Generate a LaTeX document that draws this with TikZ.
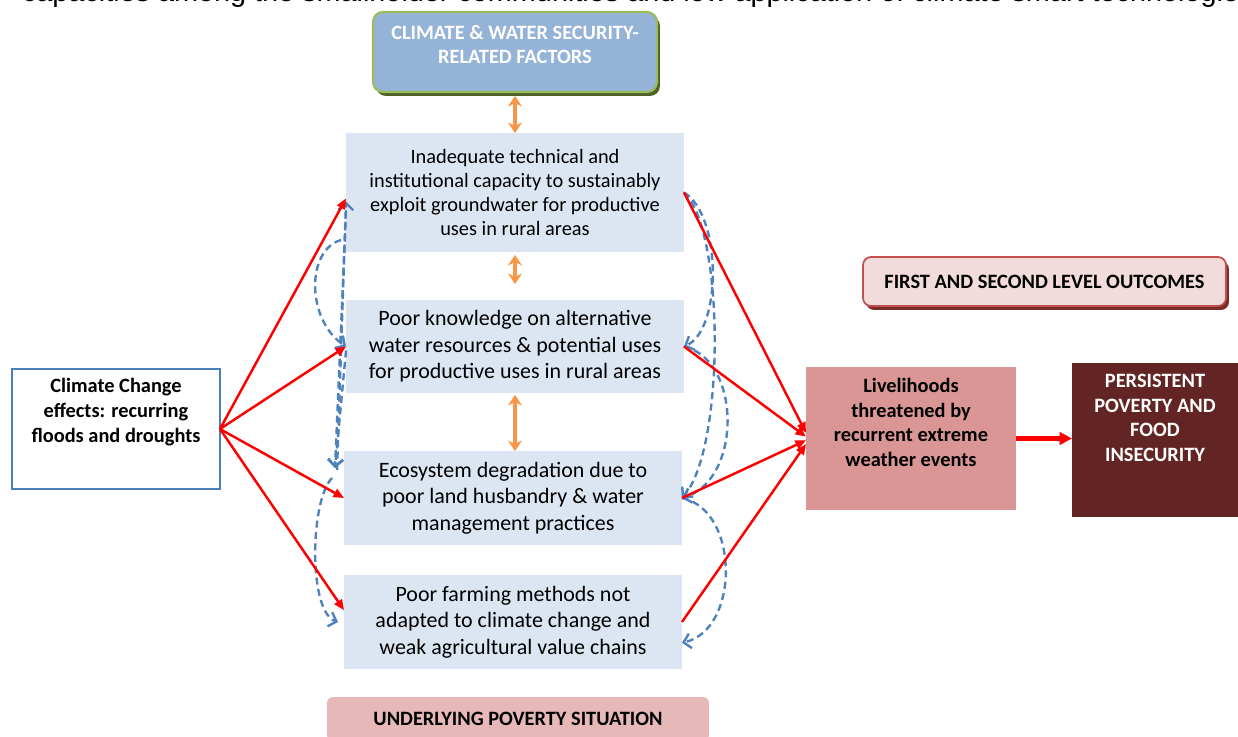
\documentclass[tikz,border=0pt]{standalone}
\usepackage{fontspec}
\setmainfont{Carlito}
\newfontfamily\arialfont{Liberation Sans}
\usetikzlibrary{arrows.meta,shadows}

\definecolor{boxblue}{HTML}{DCE6F2}
\definecolor{headblue}{HTML}{95B3D7}
\definecolor{headgreen}{HTML}{9BBB59}
\definecolor{headshadow}{HTML}{4F6228}
\definecolor{outpink}{HTML}{F2DCDB}
\definecolor{outred}{HTML}{C0504D}
\definecolor{outshadow}{HTML}{7B2C2A}
\definecolor{liverose}{HTML}{D99694}
\definecolor{povbrown}{HTML}{632523}
\definecolor{basepink}{HTML}{E6B9B8}
\definecolor{dashblue}{HTML}{4F81BD}
\definecolor{arrorange}{HTML}{F79646}
\definecolor{climblue}{HTML}{4A7EBB}

\begin{document}
\begin{tikzpicture}[x=0.02cm, y=-0.02cm,
	every node/.style = {inner sep=0pt, outer sep=0pt},
	factor/.style = {fill=boxblue, minimum width=6.76cm, minimum height=1.88cm, align=center, font=\fontsize{12.5}{15.1}\selectfont},
	heading/.style = {align=center, font=\fontsize{11.6}{14}\selectfont\bfseries},
	redarrow/.style = {red, line width=1.4pt, -{Triangle[length=6pt,width=5pt]}},
	bothways/.style = {arrorange, line width=2.1pt, {Stealth[length=6pt,width=8pt]}-{Stealth[length=6pt,width=8pt]}},
	feedback/.style = {dashblue, line width=1.35pt, dash pattern=on 4pt off 2.5pt, -{Straight Barb[length=4pt,width=8.5pt]}}]

\useasboundingbox (0,0) rectangle (1238,737);
\clip (0,0) rectangle (1238,737);

% line of the page above, cut off
\node (pagetext) [anchor=base west, font=\arialfont\fontsize{16.4}{20}\selectfont] at (22,2) {capacities among the smallholder communities and low application of climate smart technologies};

\node (factors) [fill=headblue, draw=headgreen, line width=1.2pt, rounded corners=0.2cm, minimum width=5.68cm, minimum height=1.6cm, drop shadow={fill=headshadow, opacity=1, shadow xshift=0.06cm, shadow yshift=-0.08cm}] at (515,52) {};
\node (factorstxt) [heading, text=white] at (515,44.5) {CLIMATE \& WATER SECURITY-\\RELATED FACTORS};

\node (inadequate) [factor, minimum height=2.38cm, font=\fontsize{11.6}{13.8}\selectfont] at (515,192.5) {Inadequate technical and\\institutional capacity to sustainably\\exploit groundwater for productive\\uses in rural areas};
\node (knowledge) [factor, minimum height=1.86cm] at (515,346.5) {Poor knowledge on alternative\\water resources \& potential uses\\for productive uses in rural areas};
\node (ecosystem) [factor] at (513,498) {Ecosystem degradation due to\\poor land husbandry \& water\\management practices};
\node (farming) [factor] at (513,622) {Poor farming methods not\\adapted to climate change and\\weak agricultural value chains};

\node (climate) [draw=climblue, line width=0.8pt, fill=white, minimum width=4.16cm, minimum height=2.4cm] at (116,429) {};
\node (climatetxt) [heading] at (116,412) {Climate Change\\effects: recurring\\floods and droughts};

\node (outcomes) [heading, fill=outpink, draw=outred, line width=1pt, rounded corners=0.16cm, minimum width=7.26cm, minimum height=0.98cm, drop shadow={fill=outshadow, opacity=1, shadow xshift=0.06cm, shadow yshift=-0.08cm}] at (1044.5,281.5) {FIRST AND SECOND LEVEL OUTCOMES};

\node (livelihoods) [fill=liverose, minimum width=4.2cm, minimum height=2.86cm] at (911,438.5) {};
\node (livelihoodstxt) [heading] at (911,422.5) {Livelihoods\\threatened by\\recurrent extreme\\weather events};

\node (persistent) [fill=povbrown, minimum width=3.32cm, minimum height=3.08cm] at (1155,440) {};
\node (persistenttxt) [heading, text=white] at (1155,418) {PERSISTENT\\POVERTY AND\\FOOD\\INSECURITY};

\node (underlying) [heading, fill=basepink, rounded corners=0.12cm, minimum width=7.64cm, minimum height=0.88cm] at (518,719) {UNDERLYING POVERTY SITUATION};

\draw[bothways] ([yshift=-0.08cm]factors.south) -- (inadequate.north);
\draw[bothways] ([yshift=-0.06cm]inadequate.south) -- ([yshift=0.32cm]knowledge.north);
\draw[bothways] ([yshift=-0.04cm]knowledge.south) -- (knowledge.south |- ecosystem.north);

% feedback loops, left side
\draw[feedback] ([shift={(-7,19)}]ecosystem.north west) -- (inadequate.183);
\draw[feedback] (inadequate.186) -- ([shift={(-9,17)}]ecosystem.north west);
\draw[feedback] ([yshift=-0.08cm]knowledge.west) -- ([shift={(-9,17)}]ecosystem.north west);
\draw[feedback] ([shift={(-5,-12)}]inadequate.south west) .. controls (306,250) and (306,320) .. (knowledge.west);
\draw[feedback] ([shift={(-12,27)}]ecosystem.north west) .. controls (310,500) and (308,612) .. ([xshift=-0.12cm]farming.west);

% feedback loops, right side
\draw[feedback] (inadequate.east) .. controls (722,215) and (722,330) .. (knowledge.east);
\draw[feedback] (inadequate.east) .. controls (725,230) and (725,450) .. (ecosystem.east);
\draw[feedback] (knowledge.east) .. controls (742,360) and (742,480) .. (ecosystem.east);
\draw[feedback] (ecosystem.east) .. controls (740,510) and (740,630) .. (farming.-7);

\foreach \tgt in {inadequate.182, knowledge.west, ecosystem.west, farming.176}
{
	\draw[redarrow] (climate.east) -- (\tgt);
};
\foreach \src/\tgt in {inadequate.east/livelihoods.177, knowledge.east/livelihoods.179, ecosystem.east/livelihoods.181, farming.east/livelihoods.183}
{
	\draw[redarrow] (\src) -- (\tgt);
};
\draw[redarrow, line width=2.3pt, -{Triangle[length=7pt,width=7pt]}] (livelihoods.east) -- (livelihoods.east -| persistent.west);
\end{tikzpicture}
\end{document}
